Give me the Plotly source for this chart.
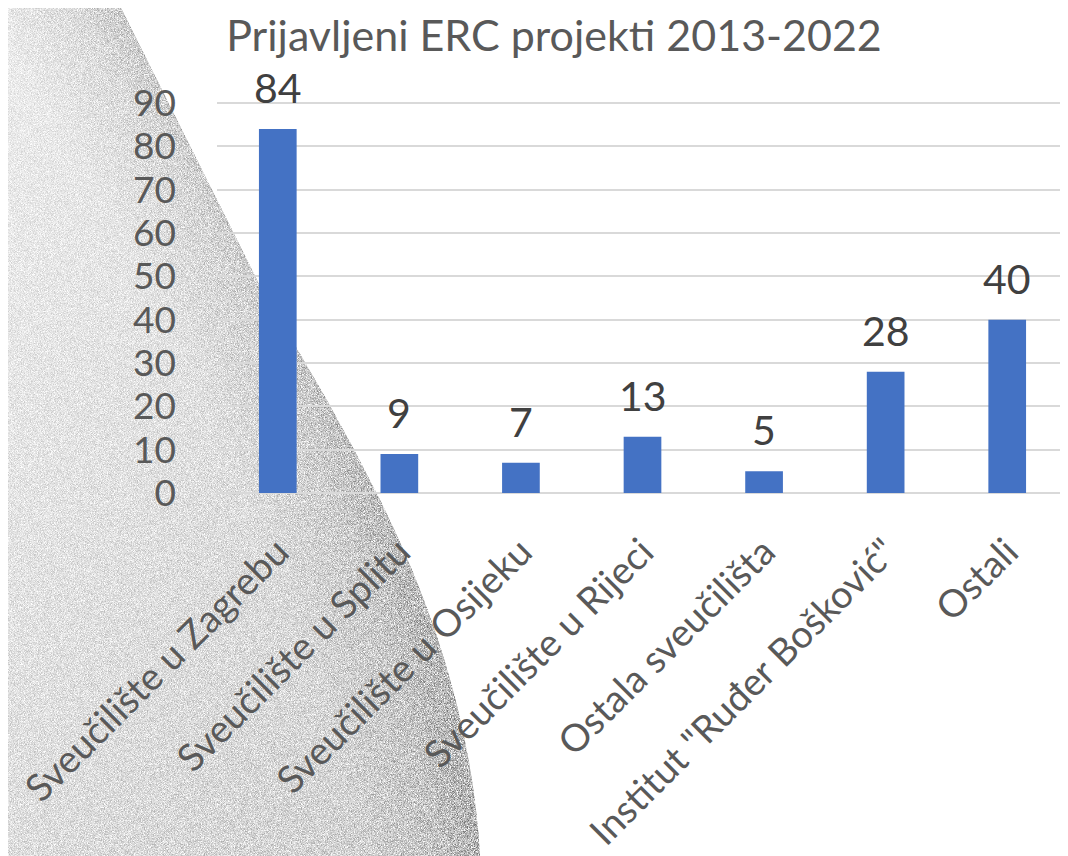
'''
    Bar chart of submitted ERC projects 2013-2022 by institution.
'''

import base64

import plotly.graph_objects as go

categories = [
    'Sveučilište u Zagrebu',
    'Sveučilište u Splitu',
    'Sveučilište u Osijeku',
    'Sveučilište u Rijeci',
    'Ostala sveučilišta',
    'Institut "Ruđer Bošković"',
    'Ostali',
]
values = [84, 9, 7, 13, 5, 28, 40]
y_ticks = [0, 10, 20, 30, 40, 50, 60, 70, 80, 90]

# page is 1068x856 but the browser body adds an 8px margin
PW, PH, OFF = 1068, 856, 8
W, H = PW - OFF, PH - OFF
# plot area in page pixels (y range runs a bit above 90 so its gridline shows)
P_L, P_R, P_T, P_B = 217, 1068, 97, 493
Y_MAX = 91.4
FONT = 'Lato'
TEXT = '#595959'


def background_svg():
    '''
        Grainy grey swoosh drawn behind the left part of the chart
        (page pixel coordinates).
    '''
    svg = f'''<svg xmlns="http://www.w3.org/2000/svg" width="{PW}" height="{PH}" viewBox="0 0 {PW} {PH}">
<defs>
<radialGradient id="g" gradientUnits="userSpaceOnUse" cx="-1860" cy="1343" r="2389">
<stop offset="0.8" stop-color="#f4f4f4"/>
<stop offset="0.95" stop-color="#ececec"/>
<stop offset="0.985" stop-color="#dcdcdc"/>
<stop offset="1" stop-color="#cccccc"/>
</radialGradient>
<linearGradient id="d" gradientUnits="userSpaceOnUse" x1="0" y1="0" x2="480" y2="856">
<stop offset="0" stop-color="#000" stop-opacity="0"/>
<stop offset="1" stop-color="#000" stop-opacity="0.12"/>
</linearGradient>
<filter id="n" x="0" y="0" width="100%" height="100%" color-interpolation-filters="sRGB">
<feTurbulence type="fractalNoise" baseFrequency="1.3" numOctaves="1" seed="4" result="t"/>
<feColorMatrix in="t" type="matrix" values="2.2 0 0 0 -0.6 2.2 0 0 0 -0.6 2.2 0 0 0 -0.6 0 0 0 0 1" result="s"/>
<feBlend in="s" in2="SourceGraphic" mode="overlay" result="b"/>
<feComposite in="b" in2="SourceGraphic" operator="in"/>
</filter>
</defs>
<g filter="url(#n)">
<path d="M0,0 L117,0 L267,300 Q330,400 380,500 Q470,680 480,{PH} L0,{PH} Z" fill="url(#g)"/>
<path d="M0,0 L117,0 L267,300 Q330,400 380,500 Q470,680 480,{PH} L0,{PH} Z" fill="url(#d)"/>
</g>
</svg>'''
    return 'data:image/svg+xml;base64,' + base64.b64encode(svg.encode('utf-8')).decode('ascii')


plot_w = P_R - P_L
plot_h = P_B - P_T

fig = go.Figure()
fig.add_trace(go.Bar(
    x=categories,
    y=values,
    marker=dict(color='#4472C4', line=dict(width=0)),
    hoverinfo='x+y',
))

for cat, val in zip(categories, values):
    fig.add_annotation(
        x=cat, y=val, text=str(val), showarrow=False,
        yanchor='bottom', yshift=15,
        font=dict(family=FONT, size=41, color='#404040'),
    )

fig.add_layout_image(
    source=background_svg(),
    xref='paper', yref='paper',
    x=-P_L / plot_w, y=P_B / plot_h,
    sizex=PW / plot_w, sizey=PH / plot_h,
    xanchor='left', yanchor='top',
    sizing='stretch', layer='below',
)

fig.update_layout(
    width=W,
    height=H,
    margin=dict(l=P_L - OFF, r=PW - P_R, t=P_T - OFF, b=PH - P_B),
    paper_bgcolor='white',
    plot_bgcolor='rgba(0,0,0,0)',
    showlegend=False,
    bargap=0.69,
    title=dict(
        text='Prijavljeni ERC projekti 2013-2022',
        font=dict(family=FONT, size=43, color=TEXT),
        x=(554 - OFF) / W, xanchor='center',
        y=1 - (36 - OFF) / H, yanchor='middle', yref='container',
    ),
    font=dict(family=FONT, color=TEXT),
)

fig.update_xaxes(
    tickangle=-45,
    tickfont=dict(family=FONT, size=38, color=TEXT),
    ticks='',
    ticklabelstandoff=28,
    automargin=False,
    showgrid=False,
    showline=False,
)

fig.update_yaxes(
    range=[0, Y_MAX],
    tickvals=y_ticks,
    tickfont=dict(family=FONT, size=37, color=TEXT),
    ticks='',
    ticklabelstandoff=40,
    automargin=False,
    showgrid=True,
    gridcolor='#d9d9d9',
    gridwidth=1.5,
    zeroline=True,
    zerolinecolor='#d9d9d9',
    zerolinewidth=2,
    showline=False,
)

fig.write_html('out.html')
